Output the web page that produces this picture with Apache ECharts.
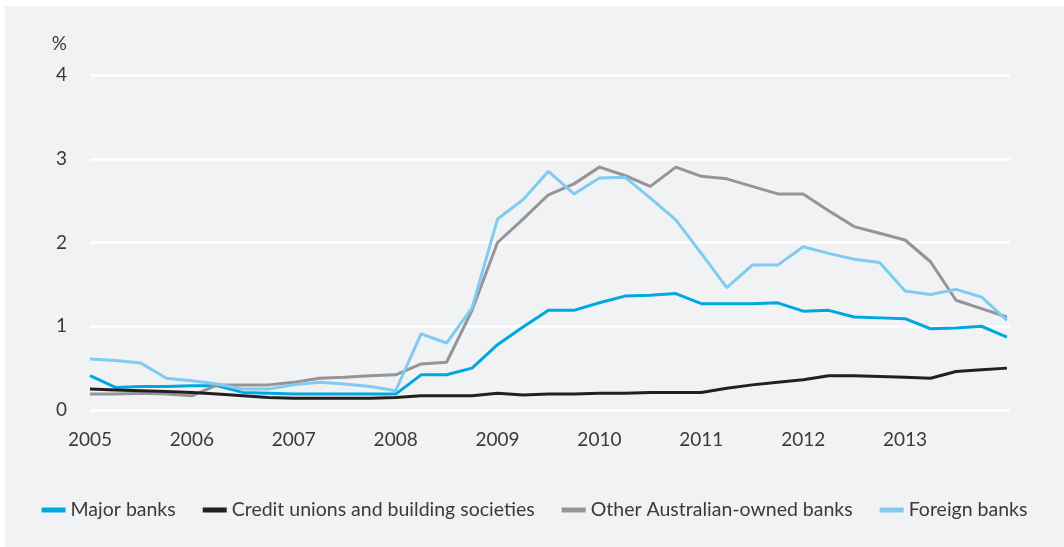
<!DOCTYPE html>
<html lang="en">
  <head>
    <meta charset="UTF-8" />
    <title>Non-performing loans by lender type</title>
    <script src="https://cdn.jsdelivr.net/npm/echarts@6/dist/echarts.min.js"></script>
    <style>
      html, body {
        margin: 0;
        padding: 0;
        background: #ffffff;
      }
      #chart {
        position: absolute;
        left: 5px;
        top: 6px;
        width: 1059px;
        height: 541px;
        background: #f1f2f4;
      }
    </style>
  </head>
  <body>
    <div id="chart"></div>
    <script>
      // quarterly observations, 2005 to 2014
      const quarters = [
        2005, 2005.25, 2005.5, 2005.75, 2006, 2006.25, 2006.5, 2006.75,
        2007, 2007.25, 2007.5, 2007.75, 2008, 2008.25, 2008.5, 2008.75,
        2009, 2009.25, 2009.5, 2009.75, 2010, 2010.25, 2010.5, 2010.75,
        2011, 2011.25, 2011.5, 2011.75, 2012, 2012.25, 2012.5, 2012.75,
        2013, 2013.25, 2013.5, 2013.75, 2014
      ];
      const majorBanks = [
        0.41, 0.27, 0.28, 0.28, 0.29, 0.29, 0.21, 0.20,
        0.19, 0.19, 0.19, 0.19, 0.19, 0.42, 0.42, 0.50,
        0.78, 0.99, 1.19, 1.19, 1.28, 1.36, 1.37, 1.39,
        1.27, 1.27, 1.27, 1.28, 1.18, 1.19, 1.11, 1.10,
        1.09, 0.97, 0.98, 1.00, 0.87
      ];
      const creditUnions = [
        0.25, 0.24, 0.23, 0.22, 0.21, 0.19, 0.17, 0.15,
        0.14, 0.14, 0.14, 0.14, 0.15, 0.17, 0.17, 0.17,
        0.20, 0.18, 0.19, 0.19, 0.20, 0.20, 0.21, 0.21,
        0.21, 0.26, 0.30, 0.33, 0.36, 0.41, 0.41, 0.40,
        0.39, 0.38, 0.46, 0.48, 0.50
      ];
      const otherAustralian = [
        0.19, 0.19, 0.20, 0.19, 0.17, 0.30, 0.30, 0.30,
        0.33, 0.38, 0.39, 0.41, 0.42, 0.55, 0.57, 1.19,
        2.00, 2.28, 2.57, 2.70, 2.90, 2.80, 2.67, 2.90,
        2.79, 2.76, 2.67, 2.58, 2.58, 2.38, 2.19, 2.11,
        2.03, 1.77, 1.31, 1.21, 1.11
      ];
      const foreignBanks = [
        0.61, 0.59, 0.56, 0.38, 0.35, 0.31, 0.25, 0.25,
        0.30, 0.33, 0.31, 0.28, 0.23, 0.91, 0.80, 1.22,
        2.28, 2.51, 2.85, 2.58, 2.77, 2.78, 2.53, 2.27,
        1.87, 1.46, 1.73, 1.73, 1.95, 1.87, 1.80, 1.76,
        1.42, 1.38, 1.44, 1.35, 1.07
      ];
      const seriesNames = [
        "Major banks",
        "Credit unions and building societies",
        "Other Australian-owned banks",
        "Foreign banks"
      ];
      const colors = ["#00a7e1", "#231f20", "#939598", "#80ccf0"];

      const textColor = "#3a3a3a";
      const font = "Lato, 'Open Sans', sans-serif";

      function pairs(values) {
        return quarters.map((q, i) => [q, values[i]]);
      }

      const chart = echarts.init(document.getElementById("chart"));
      const seriesData = [majorBanks, creditUnions, otherAustralian, foreignBanks];

      chart.setOption({
        animation: false,
        color: colors,
        grid: {
          left: 85,
          right: 54,
          top: 69,
          bottom: 137
        },
        legend: {
          left: "center",
          top: 489,
          itemWidth: 24,
          itemHeight: 5,
          itemGap: 27,
          icon: "rect",
          textStyle: {
            color: textColor,
            fontFamily: font,
            fontSize: 19.5
          },
          data: seriesNames
        },
        xAxis: {
          type: "value",
          min: 2005,
          max: 2014.03,
          interval: 1,
          axisLine: { show: false },
          axisTick: { show: false },
          splitLine: { show: false },
          axisLabel: {
            color: textColor,
            fontFamily: font,
            fontSize: 19,
            margin: 20,
            showMaxLabel: false,
            formatter: v => (v <= 2013 ? String(v) : "")
          }
        },
        yAxis: {
          type: "value",
          min: 0,
          max: 4,
          interval: 1,
          name: "%",
          nameLocation: "end",
          nameGap: 22,
          nameTextStyle: {
            color: textColor,
            fontFamily: font,
            fontSize: 19,
            align: "right",
            padding: [0, 23, 0, 0]
          },
          axisLine: { show: false },
          axisTick: { show: false },
          axisLabel: {
            color: textColor,
            fontFamily: font,
            fontSize: 19,
            margin: 23
          },
          splitLine: {
            lineStyle: { color: "#ffffff", width: 2.5 }
          }
        },
        series: seriesData.map((values, i) => ({
          name: seriesNames[i],
          type: "line",
          data: pairs(values),
          showSymbol: false,
          lineStyle: { width: 3 },
          z: i === 1 ? 3 : 2
        }))
      });
    </script>
  </body>
</html>
